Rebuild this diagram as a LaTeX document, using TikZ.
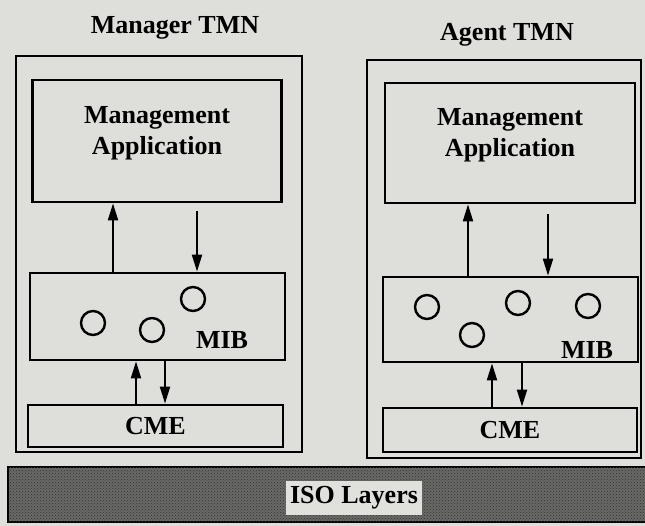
\documentclass[tikz,border=0pt]{standalone}
\usepackage{fontspec}
\setmainfont{Liberation Serif}
\usetikzlibrary{arrows.meta,patterns}

\definecolor{paper}{RGB}{222,222,219}
\definecolor{layer}{RGB}{105,105,102}

\newcommand{\bigbf}{\fontsize{26}{31}\selectfont\bfseries}

\tikzset{
  box/.style={draw, line width=2.8pt, rectangle, inner sep=0pt, font=\bigbf},
  obj/.style={draw, circle, line width=2.4pt, minimum size=24pt, inner sep=0pt},
  flow/.style={line width=2pt, -{Triangle[length=17pt,width=10pt]}},
  lbl/.style={font=\bigbf}
}

\begin{document}
\begin{tikzpicture}[x=1pt,y=-1pt]
                \fill[paper] (0,0) rectangle (645,526); % fondo
                \useasboundingbox (0,0) rectangle (645,526);
                % gestor
                \node[lbl] (titleL) at (175,28) {Manager TMN};
                \node[box, minimum width=286pt, minimum height=396pt] (outerL) at (159,254) {};
                \node[box, minimum width=249pt, minimum height=122pt, align=center] (maL) at (157,141) {Management\\Application\\[-10pt]};
                \node[box, minimum width=255pt, minimum height=87pt] (mibL) at (157.5,316.5) {};
                \node[box, minimum width=255pt, minimum height=42pt] (cmeL) at (155.5,426) {CME};
                \node[obj] (oL1) at (93,323) {};
                \node[obj] (oL2) at (152,330) {};
                \node[obj] (oL3) at (193,299) {};
                \node[lbl] (mibtxtL) at (222,340) {MIB};
                \draw[flow] ([xshift=-44.5pt]mibL.north) -- ([xshift=-44.5pt]mibL.north |- maL.south);
                \draw[flow] ([xshift=39.5pt,yshift=-8pt]mibL.north |- maL.south) -- ([xshift=39.5pt]mibL.north);
                \draw[flow] ([xshift=-21.5pt]mibL.south |- cmeL.north) -- ([xshift=-21.5pt]mibL.south);
                \draw[flow] ([xshift=7.5pt]mibL.south) -- ([xshift=7.5pt]mibL.south |- cmeL.north);
                % agente
                \node[lbl] (titleR) at (507,35) {Agent TMN};
                \node[box, minimum width=274pt, minimum height=398pt] (outerR) at (504,259) {};
                \node[box, minimum width=250pt, minimum height=120pt, align=center] (maR) at (510,143) {Management\\Application\\[-10pt]};
                \node[box, minimum width=255pt, minimum height=85pt] (mibR) at (510.5,319.5) {};
                \node[box, minimum width=254pt, minimum height=44pt] (cmeR) at (510,430) {CME};
                \node[obj] (oR1) at (427,307) {};
                \node[obj] (oR2) at (518,303) {};
                \node[obj] (oR3) at (588,306) {};
                \node[obj] (oR4) at (472,335) {};
                \node[lbl] (mibtxtR) at (587,350) {MIB};
                \draw[flow] ([xshift=-42.5pt]mibR.north) -- ([xshift=-42.5pt]mibR.north |- maR.south);
                \draw[flow] ([xshift=37.5pt,yshift=-10pt]mibR.north |- maR.south) -- ([xshift=37.5pt]mibR.north);
                \draw[flow] ([xshift=-18.5pt]mibR.south |- cmeR.north) -- ([xshift=-18.5pt]mibR.south);
                \draw[flow] ([xshift=11.5pt]mibR.south) -- ([xshift=11.5pt]mibR.south |- cmeR.north);
                % capas ISO
                \draw[line width=2.8pt, fill=layer] (8,467) rectangle (650,522);
                \fill[pattern=crosshatch dots, pattern color=black!80] (8,467) rectangle (650,522);
                \node[fill=paper!95!white, minimum width=136pt, minimum height=34pt, inner sep=0pt, lbl] (iso) at (354,498) {ISO Layers};
            \end{tikzpicture}
\end{document}
